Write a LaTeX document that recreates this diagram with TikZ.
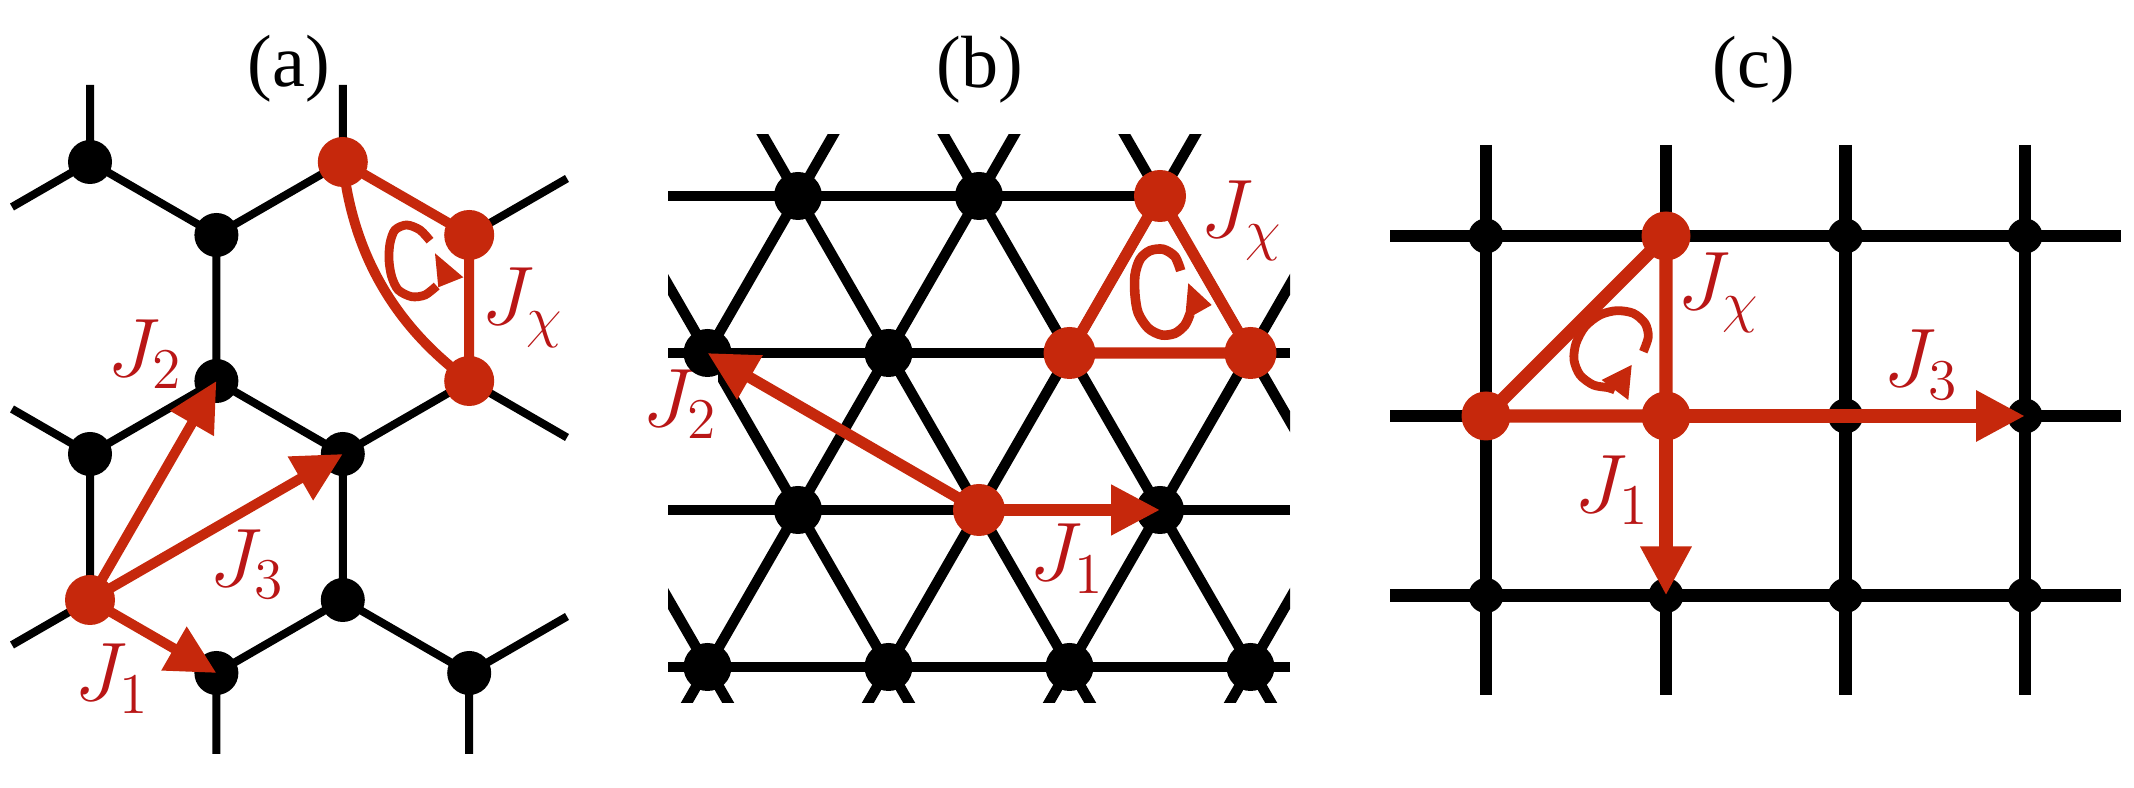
\documentclass[tikz,border=0pt]{standalone}
\usepackage{fontspec}
\newfontfamily\titlefont{Liberation Serif}
\usetikzlibrary{arrows.meta}
\definecolor{lred}{RGB}{198,40,12}
\definecolor{tred}{RGB}{185,22,22}
\begin{document}
\begin{tikzpicture}[x=0.25pt,y=-0.25pt,
  dotb/.style={circle,fill=black,draw=none,inner sep=0pt},
  dotr/.style={circle,fill=lred,draw=none,inner sep=0pt},
  blkA/.style={black,line width=2pt},
  blkB/.style={black,line width=2.6pt},
  blkC/.style={black,line width=3.1pt},
  redA/.style={lred,line width=2.5pt},
  redB/.style={lred,line width=2.8pt},
  redC/.style={lred,line width=3.3pt},
  jarrow/.style={-{Triangle[length=12.25pt,width=12pt]}},
  looparc/.style={lred,line width=2.2pt},
  paneltitle/.style={font=\titlefont\fontsize{18.5}{22}\selectfont,inner sep=0pt},
  jlab/.style={text=tred,font=\fontsize{20.74}{24}\selectfont,inner sep=0pt},
  jlabw/.style={jlab,fill=white}]
\path[fill=white,use as bounding box] (0,0) rectangle (2134,788);

% ================= panel (a): honeycomb =================
\node[paneltitle] (ta) at (289,69) {(a)};
\coordinate (a1) at (90,162);
\coordinate (a2) at (216.4,235);
\coordinate (a3) at (342.8,162);
\coordinate (a4) at (469.2,235);
\coordinate (a5) at (216.4,381);
\coordinate (a6) at (90,454);
\coordinate (a7) at (342.8,454);
\coordinate (a8) at (469.2,381);
\coordinate (a9) at (90,600);
\coordinate (a10) at (342.8,600);
\coordinate (a11) at (216.4,673);
\coordinate (a12) at (469.2,673);
\coordinate (ae1) at (90,85);
\coordinate (ae2) at (342.8,85);
\coordinate (ae3) at (12,207);
\coordinate (ae4) at (12,409);
\coordinate (ae5) at (12,645);
\coordinate (ae6) at (567,178.5);
\coordinate (ae7) at (567,437.5);
\coordinate (ae8) at (567,616.5);
\coordinate (ae9) at (216.4,754);
\coordinate (ae10) at (469.2,754);
\draw[blkA] (a1)--(ae1) (a3)--(ae2) (a1)--(ae3) (a6)--(ae4) (a9)--(ae5)
  (a4)--(ae6) (a8)--(ae7) (a12)--(ae8) (a11)--(ae9) (a12)--(ae10)
  (a1)--(a2) (a2)--(a3) (a3)--(a4) (a2)--(a5) (a5)--(a6) (a5)--(a7)
  (a7)--(a8) (a4)--(a8) (a6)--(a9) (a7)--(a10) (a9)--(a11) (a10)--(a11) (a10)--(a12);
\foreach \p in {a1,a2,a5,a6,a7,a10,a11,a12}
  \node[dotb,minimum size=11pt] (d\p) at (\p) {};
\draw[redA] (a3)--(a4)--(a8);
\draw[redA] (a3) .. controls (352.6,253.7) and (394.7,326.7) .. (a8);
\draw[redA,jarrow] (a9)--(a5);
\draw[redA,jarrow] (a9)--(a7);
\draw[redA,jarrow] (a9)--(a11);
\foreach \p in {a3,a4,a8,a9}
  \node[dotr,minimum size=12.5pt] (d\p) at (\p) {};
\draw[looparc] plot[smooth] coordinates {(430,240.7) (420,230) (406.7,225) (395,230) (390,243.3) (389,260) (391.7,276.7) (398.3,290) (411.7,296.7) (425,295) (436.7,286)};
\fill[lred] (435,253.3) -- (463.3,277.3) -- (438.3,287.3) -- cycle;
\node[jlab] (la2) at (145.5,354) {$J_2$};
\node[jlab] (la3) at (247,564) {$J_3$};
\node[jlab] (la1) at (112.5,678.5) {$J_1$};
\node[jlab] (lax) at (522.5,308) {$J_\chi$};

% ================= panel (b): triangular =================
\node[paneltitle] (tb) at (980,70) {(b)};
\coordinate (b11) at (798,196);
\coordinate (b12) at (979,196);
\coordinate (b13) at (1160,196);
\coordinate (b21) at (707.5,353);
\coordinate (b22) at (888.5,353);
\coordinate (b23) at (1069.5,353);
\coordinate (b24) at (1250.5,353);
\coordinate (b31) at (798,510);
\coordinate (b32) at (979,510);
\coordinate (b33) at (1160,510);
\coordinate (b41) at (707.5,667);
\coordinate (b42) at (888.5,667);
\coordinate (b43) at (1069.5,667);
\coordinate (b44) at (1250.5,667);
\begin{scope}
  \clip (668,135) rectangle (1290,703);
  \foreach \yy in {196,353,510,667} \draw[blkB] (668,\yy) -- (1290,\yy);
  \foreach \k in {-2,...,5} {
    \draw[blkB] ({707.5+181*\k-181},39) -- ({707.5+181*\k+271.5},824);
    \draw[blkB] ({707.5+181*\k+181},39) -- ({707.5+181*\k-271.5},824);
  }
\end{scope}
\node[jlabw] (lb2) at (680,404) {$J_2$};
\node[jlabw,inner xsep=4pt] (lbx) at (1242,221) {$J_\chi$};
\foreach \p in {b11,b12,b21,b22,b31,b33,b41,b42,b43,b44}
  \node[dotb,minimum size=12pt] (d\p) at (\p) {};
\draw[redB] (b23)--(b13)--(b24)--cycle;
\draw[redB,jarrow] (b32)--(b21);
\draw[redB,jarrow] (b32)--(b33);
\foreach \p in {b13,b23,b24,b32}
  \node[dotr,minimum size=13pt] (d\p) at (\p) {};
\draw[looparc,line width=2.4pt] plot[smooth] coordinates {(1180.7,270.7) (1175,256.7) (1163.3,249.3) (1150,250.7) (1140,259.3) (1135,275) (1135,295) (1138.3,313.3) (1148.3,328.3) (1161.7,335) (1175,333.3) (1185,325) (1190,314)};
\fill[lred] (1188.3,283.3) -- (1211.7,305) -- (1185,320) -- cycle;
\node[jlab] (lb1) at (1067,558.5) {$J_1$};

% ================= panel (c): square =================
\node[paneltitle] (tc) at (1754,70) {(c)};
\coordinate (c11) at (1486,236);
\coordinate (c12) at (1666,236);
\coordinate (c13) at (1845.5,236);
\coordinate (c14) at (2025,236);
\coordinate (c21) at (1486,416);
\coordinate (c22) at (1666,416);
\coordinate (c23) at (1845.5,416);
\coordinate (c24) at (2025,416);
\coordinate (c31) at (1486,595.5);
\coordinate (c32) at (1666,595.5);
\coordinate (c33) at (1845.5,595.5);
\coordinate (c34) at (2025,595.5);
\foreach \yy in {236,416,595.5} \draw[blkC] (1390,\yy) -- (2121,\yy);
\foreach \xx in {1486,1666,1845.5,2025} \draw[blkC] (\xx,145) -- (\xx,695);
\foreach \p in {c11,c13,c14,c23,c24,c31,c32,c33,c34}
  \node[dotb,minimum size=8.75pt] (d\p) at (\p) {};
\draw[redC] (c21)--(c12)--(c22)--cycle;
\draw[redC,jarrow] (c22)--(c24);
\draw[redC,jarrow] (c22)--(c32);
\foreach \p in {c12,c21,c22}
  \node[dotr,minimum size=12.25pt] (d\p) at (\p) {};
\draw[looparc] plot[smooth] coordinates {(1643.3,351.7) (1648.3,336.7) (1645,323.3) (1633.3,313.3) (1616.7,310.7) (1600,315) (1585,326.7) (1576,343.3) (1574,360) (1580,375) (1593.3,385) (1608.3,387.7) (1615,390)};
\fill[lred] (1631.7,365) -- (1601.7,380) -- (1628.3,400) -- cycle;
\node[jlab] (lcx) at (1719,293) {$J_\chi$};
\node[jlab] (lc3) at (1921.5,364.5) {$J_3$};
\node[jlab] (lc1) at (1612,490) {$J_1$};
\end{tikzpicture}
\end{document}
